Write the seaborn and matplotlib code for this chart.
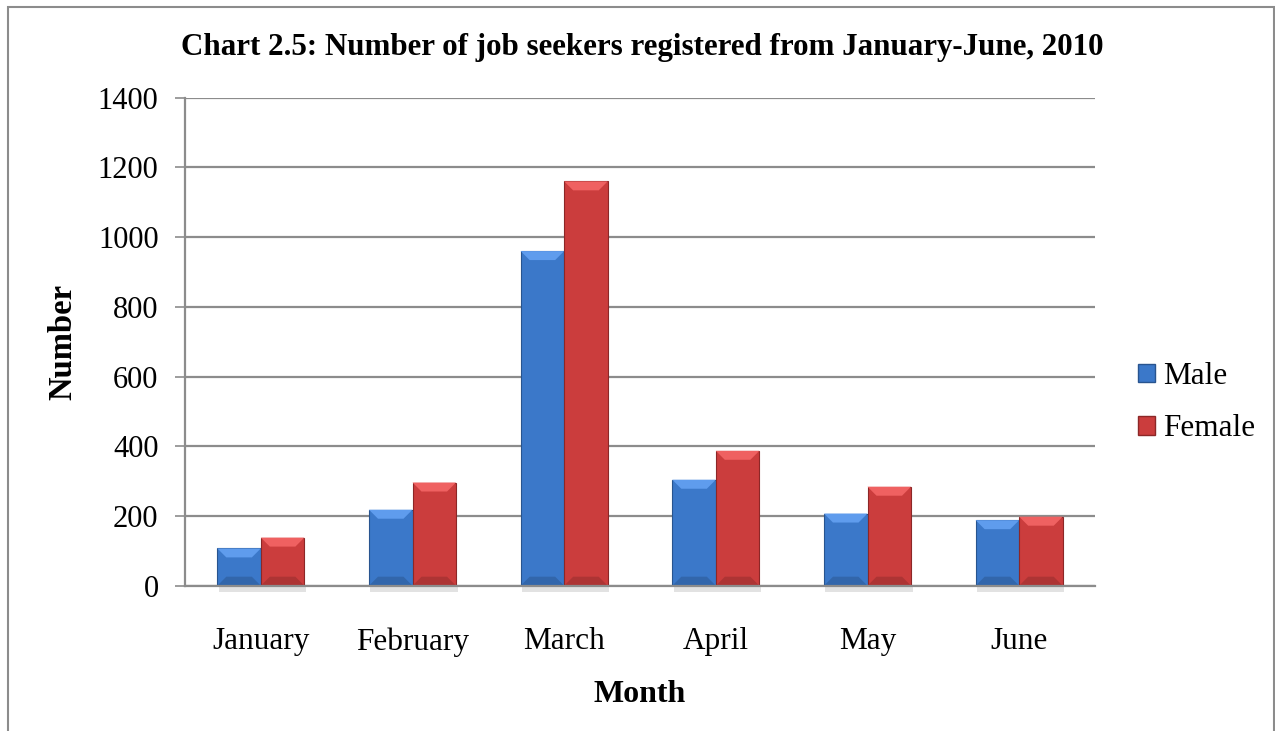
import numpy as np
import pandas as pd
import matplotlib
matplotlib.use("Agg")
import matplotlib.pyplot as plt
from matplotlib.patches import Rectangle, Polygon
import seaborn as sns

months = ["January", "February", "March", "April", "May", "June"]
male = [107, 218, 960, 304, 207, 188]
female = [138, 296, 1160, 387, 284, 198]
series = ["Male", "Female"]
yticks = [0, 200, 400, 600, 800, 1000, 1200, 1400]

df = pd.DataFrame({
    "Month": months * 2,
    "Number": male + female,
    "Sex": ["Male"] * len(months) + ["Female"] * len(months),
})

sns.set_theme(style="white")
plt.rcParams["font.family"] = ["Liberation Serif", "DejaVu Serif"]
plt.rcParams["text.color"] = "black"
plt.rcParams["axes.labelcolor"] = "black"

palette = {"Male": "#3B78C9", "Female": "#CB3D3D"}
edges = {"Male": "#28548F", "Female": "#8C2727"}

fig = plt.figure(figsize=(12.75, 7.31), dpi=100)
ax = fig.add_axes([185 / 1275, 1 - 585.7 / 731, (1095 - 185) / 1275, (585.7 - 97.7) / 731])

sns.barplot(data=df, x="Month", y="Number", hue="Sex", hue_order=series,
            palette=palette, width=0.574, gap=0, saturation=1, ax=ax,
            legend=True, zorder=3)

# bevelled look: lighter top band, darker bottom band on each bar
px = 1 / 0.3486                      # data units per pixel (y)
pxx = 6 / 910                        # data units per pixel (x)
for cont, name in zip(ax.containers, series):
    base = matplotlib.colors.to_rgb(palette[name])
    light = tuple(min(1, c + 0.14) for c in base)
    dark = tuple(c * 0.85 for c in base)
    for p in cont.patches:
        p.set_edgecolor(edges[name])
        p.set_linewidth(0.8)
        x0, w, h = p.get_x(), p.get_width(), p.get_height()
        b = 9 * px
        bx = 9 * pxx
        ax.add_patch(Polygon([(x0, h), (x0 + w, h), (x0 + w - bx, h - b), (x0 + bx, h - b)],
                             closed=True, facecolor=light, edgecolor="none", zorder=3.5))
        ax.add_patch(Polygon([(x0, 0), (x0 + w, 0), (x0 + w - bx, b), (x0 + bx, b)],
                             closed=True, facecolor=dark, edgecolor="none", zorder=3.5))
        ax.add_patch(Rectangle((x0 + 0.01, -6 * px), w, 6 * px, facecolor="#e2e2e2",
                               edgecolor="none", zorder=2, clip_on=False))

ax.set_ylim(0, 1400)
ax.set_xlim(-0.5, len(months) - 0.5)
ax.set_yticks(yticks)
ax.yaxis.grid(True, color="#8c8c8c", linewidth=1.6, zorder=0)
ax.set_axisbelow(True)
for s in ["top", "right"]:
    ax.spines[s].set_visible(False)
for s in ["left", "bottom"]:
    ax.spines[s].set_color("#8c8c8c")
    ax.spines[s].set_linewidth(1.6)
    ax.spines[s].set_zorder(4)

ax.tick_params(axis="y", which="major", left=True, length=7, width=1.2,
               color="#8c8c8c", pad=12, labelsize=22, labelcolor="black")
ax.tick_params(axis="x", bottom=False, pad=24, labelsize=22.5, labelcolor="black")

ax.set_xlabel("Month", fontsize=23, fontweight="bold", labelpad=17, color="black")
ax.set_ylabel("Number", fontsize=23.5, fontweight="bold", labelpad=14, color="black")

fig.text(0.504, 1 - 47 / 731,
         "Chart 2.5: Number of job seekers registered from January-June, 2010",
         ha="center", va="center", fontsize=22.3, fontweight="bold", color="black")

leg = ax.legend(loc="center left", bbox_to_anchor=(1.03, 0.375), frameon=False,
                fontsize=22.5, handlelength=0.55, handleheight=0.55,
                handletextpad=0.25, labelspacing=0.75, borderpad=0)
for h, name in zip(leg.legend_handles, series):
    h.set_edgecolor(edges[name])

# outer chart frame
fig.patches.append(Rectangle((8 / 1275, -0.05), (1274 - 8) / 1275, 1.05 - 7 / 731,
                             transform=fig.transFigure, fill=False,
                             edgecolor="#8c8c8c", linewidth=1.5))

fig.savefig("out.png", dpi=100)
